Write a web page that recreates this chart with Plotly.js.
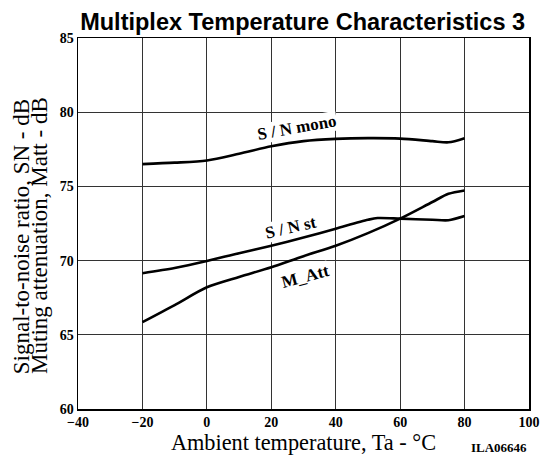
<!DOCTYPE html>
<html>
<head>
<meta charset="utf-8">
<script src="https://cdn.plot.ly/plotly-3.0.1.min.js"></script>
<style>html,body{margin:0;padding:0;background:#fff;}#chart{width:542px;height:456px;}</style>
</head>
<body>
<div id="chart"></div>
<script>
// Ambient temperature (°C)
const tempMono = [-20, -10, 0, 10, 20, 30, 40, 50, 60, 70, 75, 80];
const snMono   = [76.5, 76.6, 76.75, 77.2, 77.7, 78.05, 78.2, 78.25, 78.22, 78.05, 77.97, 78.25];

const tempSt = [-20, -10, 0, 10, 20, 30, 40, 50, 53, 60, 70, 75, 80];
const snSt   = [69.15, 69.5, 69.97, 70.5, 71.0, 71.55, 72.15, 72.75, 72.87, 72.83, 72.75, 72.72, 73.0];

const tempAtt = [-20, -10, 0, 10, 20, 30, 40, 50, 60, 70, 75, 80];
const mAtt    = [65.85, 67.0, 68.2, 68.9, 69.55, 70.3, 71.0, 71.85, 72.83, 73.95, 74.5, 74.73];

const seriesNames = ['S / N mono', 'S / N st', 'M_Att'];
const yTitleLines = ['Signal-to-noise ratio, SN - dB', 'Muting attenuation, Matt - dB'];

const lineStyle = {color: '#000', width: 2.6, shape: 'spline', smoothing: 0.8};
const traces = [
  {x: tempMono, y: snMono, name: seriesNames[0]},
  {x: tempSt, y: snSt, name: seriesNames[1]},
  {x: tempAtt, y: mAtt, name: seriesNames[2]}
].map(t => Object.assign(t, {type: 'scatter', mode: 'lines', line: lineStyle, hoverinfo: 'skip'}));

const serif = 'Liberation Serif, Times New Roman, serif';
const labelFont = {family: serif, size: 17, color: '#000', weight: 'bold'};
const yTitleFont = {family: serif, size: 23, color: '#000'};
const layout = {
  width: 542, height: 456,
  margin: {l: 78, r: 13, t: 38, b: 47},
  paper_bgcolor: '#fff', plot_bgcolor: '#fff',
  showlegend: false,
  title: {
    text: 'Multiplex Temperature Characteristics 3',
    font: {family: 'Liberation Sans, Arial, sans-serif', size: 23.5, color: '#000', weight: 'bold'},
    x: 0.5584, xanchor: 'center', y: 0.952, yanchor: 'middle'
  },
  xaxis: {
    range: [-40, 100], dtick: 20, tick0: -40,
    showgrid: true, gridcolor: '#333', gridwidth: 1,
    zeroline: false, showline: true, linecolor: '#000', linewidth: 1.5, mirror: true,
    ticks: '', tickfont: {family: serif, size: 14, color: '#000', weight: 'bold'},
    title: {text: 'Ambient temperature, Ta - °C', font: {family: serif, size: 22.3, color: '#000'}, standoff: 2}
  },
  yaxis: {
    range: [60, 85], dtick: 5, tick0: 60,
    showgrid: true, gridcolor: '#333', gridwidth: 1,
    zeroline: false, showline: true, linecolor: '#000', linewidth: 1.5, mirror: true,
    ticks: '', tickfont: {family: serif, size: 14, color: '#000', weight: 'bold'}
  },
  annotations: [
    {x: 28, y: 78.95, text: seriesNames[0], textangle: -10, showarrow: false,
     font: labelFont, bgcolor: '#fff', borderpad: 0},
    {x: 26.1, y: 72.2, text: seriesNames[1], textangle: -13, showarrow: false,
     font: labelFont, bgcolor: '#fff', borderpad: 0},
    {x: 30.5, y: 68.96, text: seriesNames[2], textangle: -15, showarrow: false,
     font: labelFont, bgcolor: '#fff', borderpad: 0},
    {xref: 'paper', yref: 'paper', x: -0.1255, y: 0.464, xanchor: 'center', yanchor: 'middle',
     text: yTitleLines[0], textangle: -90, showarrow: false, font: yTitleFont},
    {xref: 'paper', yref: 'paper', x: -0.0856, y: 0.4677, xanchor: 'center', yanchor: 'middle',
     text: yTitleLines[1], textangle: -90, showarrow: false, font: yTitleFont},
    {xref: 'paper', yref: 'paper', x: 1.0, y: -0.105, xanchor: 'right', yanchor: 'middle',
     text: 'ILA06646', showarrow: false, font: {family: serif, size: 13, color: '#000', weight: 'bold'}}
  ]
};

Plotly.newPlot('chart', traces, layout, {displayModeBar: false, staticPlot: true});
</script>
</body>
</html>
